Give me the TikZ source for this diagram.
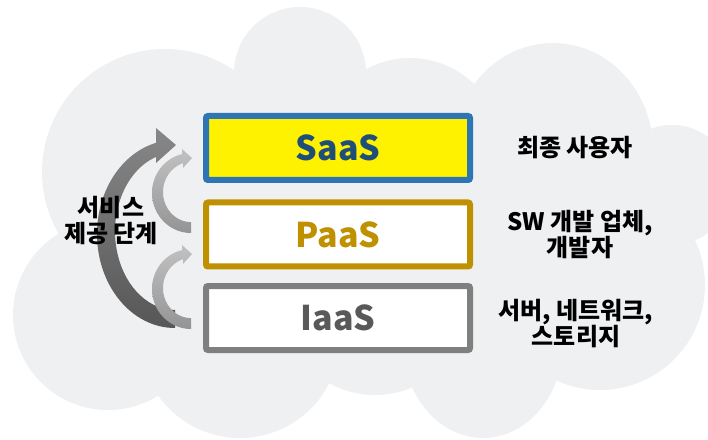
\documentclass[tikz,border=0pt]{standalone}
\usepackage{fontspec}
\setmainfont{Noto Sans CJK KR}
\usepackage{tikz}

\definecolor{cloudgray}{RGB}{239,240,242}
\definecolor{saasblue}{RGB}{46,117,182}
\definecolor{saastext}{RGB}{31,78,121}
\definecolor{paasgold}{RGB}{191,144,0}
\definecolor{iaasgray}{RGB}{127,127,127}
\definecolor{iaastext}{RGB}{89,89,89}

\begin{document}
\begin{tikzpicture}[x=1pt, y=1pt,
		layer/.style={draw, line width=6pt, rounded corners=2pt, minimum width=264pt, minimum height=64pt, font=\fontsize{34}{38}\selectfont\bfseries},
		userlabel/.style={align=center, font=\fontsize{24}{26}\selectfont\bfseries},
		bigarrow/.style={top color=black!47, bottom color=black!66},
		smallarrow/.style={top color=black!24, bottom color=black!42}]
		\useasboundingbox (0,0) rectangle (708,439);
		\clip (0,0) rectangle (708,439);
		
		% cloud
		\fill[cloudgray] (165,267) circle (123)  (300,366) circle (66)  (410,289) circle (92)
			(553,289) ellipse (100 and 107)  (672,254) circle (60)  (600,154) circle (105)
			(483,96) ellipse (80 and 95)  (375,139) circle (95)  (240,101) circle (100)  (108,124) circle (95);
		\fill[cloudgray] (165,267)--(300,366)--(410,289)--(553,289)--(672,254)--(600,154)--(483,96)--(375,139)--(240,101)--(108,124)--cycle;
		
		% stage arrows
		\shade[bigarrow] (175,111) arc[start angle=270, end angle=104.1, x radius=78, y radius=94]
			--(156,311)--(176,294)--(156,276)--(156,282)
			arc[start angle=108.5, end angle=270, x radius=60, y radius=78.5]--cycle;
		\foreach \dy in {0,-96}{
			\shade[smallarrow, shift={(0,\dy)}] (191,206) arc[start angle=270, end angle=103.3, x radius=39, y radius=40]
				--(182,290)--(192,281)--(183,271)--(183,275.8)
				arc[start angle=106.6, end angle=270, x radius=28, y radius=30.1]--cycle;
		}
		
		\node[layer, draw=saasblue, fill=yellow, text=saastext] (saas) at (338,291) {SaaS};
		\node[layer, draw=paasgold, fill=white, text=paasgold] (paas) at (338,204.5) {PaaS};
		\node[layer, draw=iaasgray, fill=white, text=iaastext] (iaas) at (338,121) {IaaS};
		
		\node[userlabel] (saasuser) at (575,291) {최종 사용자};
		\node[userlabel] (paasuser) at (580,204) {SW 개발 업체,\\개발자};
		\node[userlabel] (iaasuser) at (576,115) {서버, 네트워크,\\스토리지};
		\node[userlabel] (stage) at (111,218) {서비스\\제공 단계};
	\end{tikzpicture}
\end{document}
